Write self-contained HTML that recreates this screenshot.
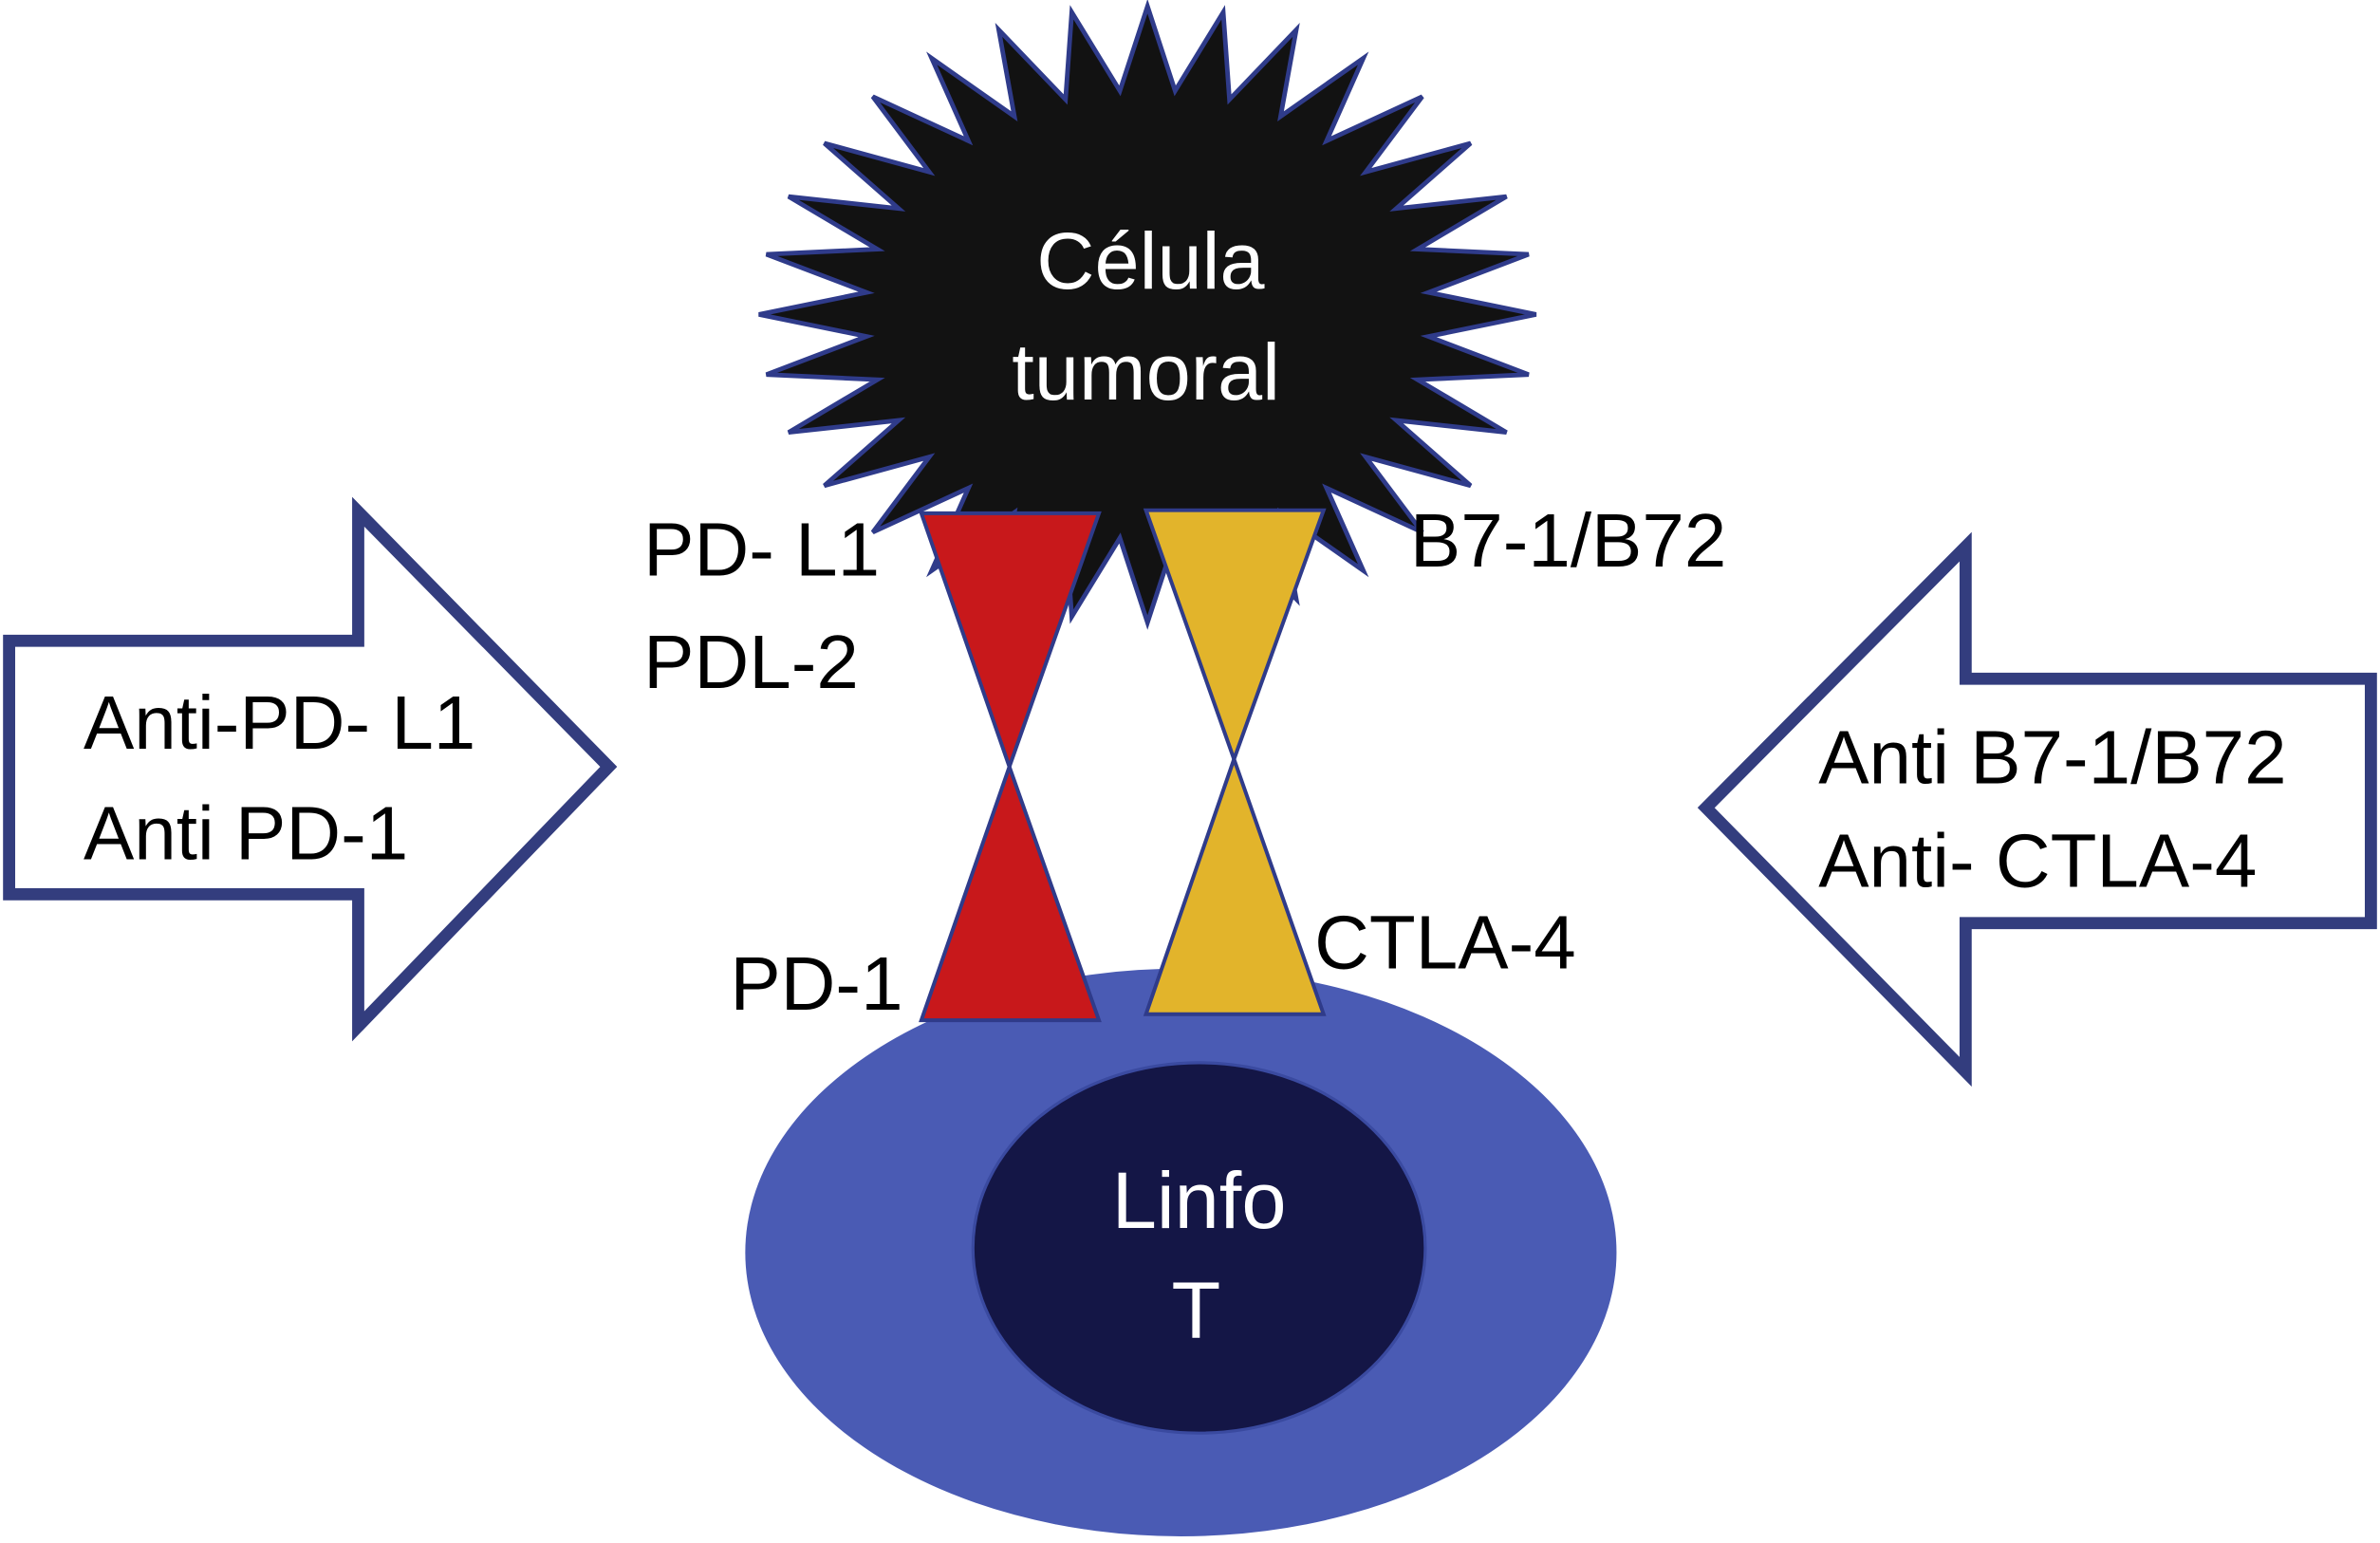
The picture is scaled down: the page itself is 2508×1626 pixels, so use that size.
<!DOCTYPE html>
<html><head><meta charset="utf-8"><style>
html,body{margin:0;padding:0;background:#fff;}
svg{display:block;}
text{font-family:"Liberation Sans",sans-serif;}
</style></head><body>
<svg width="2508" height="1626" viewBox="0 0 1568 1016.25" xmlns="http://www.w3.org/2000/svg">
<rect width="1568" height="1017" fill="#fff"/>
<!-- left arrow -->
<polygon points="6,422 236,422 236,337 401,505 236,676 236,589 6,589" fill="#fff" stroke="#333d7e" stroke-width="8"/>
<text x="55" y="493" font-size="50">Anti-PD- L1</text>
<text x="55" y="566" font-size="50">Anti PD-1</text>
<!-- right arrow -->
<polygon points="1562,447 1295,447 1295,360 1124,532 1295,706 1295,608 1562,608" fill="#fff" stroke="#333d7e" stroke-width="8"/>
<text x="1198" y="516" font-size="50">Anti B7-1/B72</text>
<text x="1198" y="584" font-size="50">Anti- CTLA-4</text>
<!-- star -->
<polygon id="star" fill="#121212" stroke="#2f3b8a" stroke-width="3" points=""/>
<text x="758" y="190" font-size="53" fill="#fff" text-anchor="middle">Célula</text>
<text x="755" y="263" font-size="53" fill="#fff" text-anchor="middle">tumoral</text>
<!-- ellipses -->
<ellipse cx="778" cy="825" rx="287" ry="187" fill="#4a5bb4"/>
<ellipse cx="790" cy="822" rx="149" ry="122" fill="#141646" stroke="#3a4aa0" stroke-width="2"/>
<text x="790" y="809" font-size="53" fill="#fff" text-anchor="middle">Linfo</text>
<text x="788" y="881" font-size="53" fill="#fff" text-anchor="middle">T</text>
<!-- triangles -->
<g stroke="#2f3b8a" stroke-width="2.5" stroke-linejoin="miter">
<polygon points="607,338 724,338 665,505" fill="#c8181b"/>
<polygon points="665,505 724,672 607,672" fill="#c8181b"/>
<polygon points="755,336 872,336 813,500" fill="#e2b42b"/>
<polygon points="813,500 872,668 755,668" fill="#e2b42b"/>
</g>
<text x="424" y="379" font-size="50">PD- L1</text>
<text x="424" y="453" font-size="50">PDL-2</text>
<text x="929" y="373" font-size="50">B7-1/B72</text>
<text x="481" y="665" font-size="50">PD-1</text>
<text x="866" y="638" font-size="50">CTLA-4</text>
</svg>
<script>
(function(){
var cx=756,cy=207,Rx=256,Ry=203,rx=186,ry=148,n=32,p=[];
for(var i=0;i<2*n;i++){
 var a=-Math.PI/2+i*Math.PI/n;
 var o=i%2==0;
 p.push((cx+(o?Rx:rx)*Math.cos(a)).toFixed(1)+","+(cy+(o?Ry:ry)*Math.sin(a)).toFixed(1));
}
document.getElementById("star").setAttribute("points",p.join(" "));
})();
</script>
</body></html>
